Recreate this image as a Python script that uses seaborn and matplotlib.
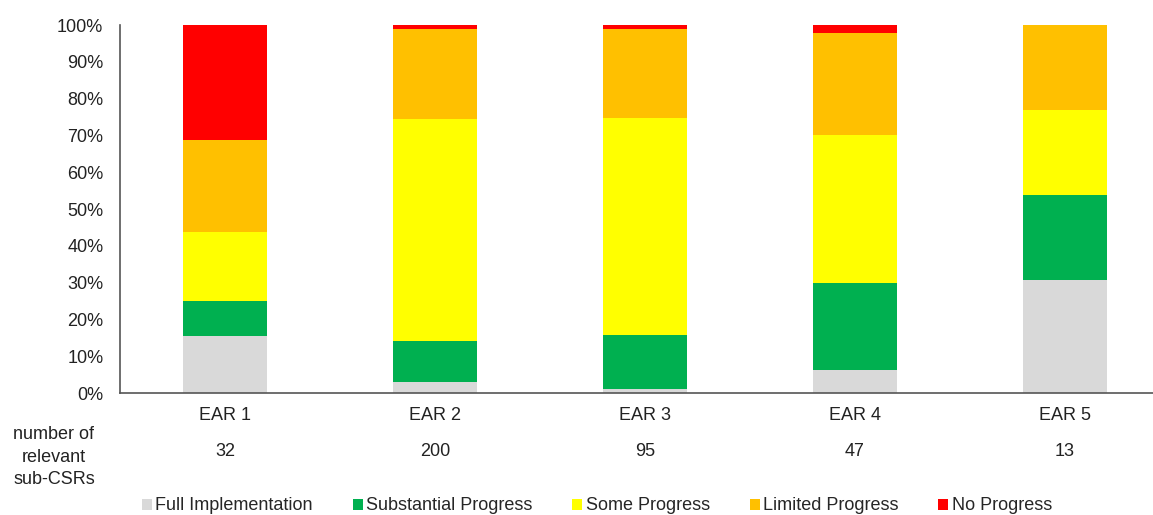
import matplotlib
matplotlib.use("Agg")
import matplotlib.pyplot as plt
from matplotlib.patches import Patch
import seaborn as sns
import pandas as pd
import numpy as np

categories = ["EAR 1", "EAR 2", "EAR 3", "EAR 4", "EAR 5"]
n_subcsrs = [32, 200, 95, 47, 13]
series_names = ["Full Implementation", "Substantial Progress", "Some Progress",
                "Limited Progress", "No Progress"]
full_impl = [5, 6, 1, 3, 4]
substantial = [3, 22, 14, 11, 3]
some = [6, 121, 56, 19, 3]
limited = [8, 49, 23, 13, 3]
no_progress = [10, 2, 1, 1, 0]
colors = ["#D9D9D9", "#00B050", "#FFFF00", "#FFC000", "#FF0000"]

sns.set_theme(style="white")
plt.rcParams["font.family"] = ["Liberation Sans", "DejaVu Sans"]

counts = np.array([full_impl, substantial, some, limited, no_progress], dtype=float)
totals = np.array(n_subcsrs, dtype=float)
pct = counts / totals * 100
cum = np.cumsum(pct, axis=0)

FS = 13
TXT = "#222222"

fig = plt.figure(figsize=(11.53, 5.15), dpi=100)
ax = fig.add_axes([120/1153, 122/515, 1 - 120/1153, 368/515])

for i in range(len(series_names) - 1, -1, -1):
    df = pd.DataFrame({"cat": categories, "val": cum[i]})
    sns.barplot(data=df, x="cat", y="val", color=colors[i], width=0.4,
                saturation=1, ax=ax, edgecolor="none", linewidth=0)

ax.set_xlim(-0.5, 4.42)
ax.set_ylim(0, 100)
ax.set_yticks(np.arange(0, 101, 10))
ax.set_yticklabels([f"{v}%" for v in range(0, 101, 10)], fontsize=FS, color=TXT)
ax.set_xlabel("")
ax.set_ylabel("")
ax.tick_params(axis="x", labelsize=FS, length=0, pad=10, colors=TXT)
ax.tick_params(axis="y", length=0, pad=12)
for s in ["top", "right"]:
    ax.spines[s].set_visible(False)
for s in ["left", "bottom"]:
    ax.spines[s].set_color("#555555")
    ax.spines[s].set_linewidth(1.2)

trans = matplotlib.transforms.blended_transform_factory(ax.transData, fig.transFigure)
for i, n in enumerate(n_subcsrs):
    ax.text(i, 1 - 452/515, str(n), transform=trans, ha="center", va="center",
            fontsize=FS, color=TXT)
fig.text(54/1153, 1 - 457/515, "number of\nrelevant\nsub-CSRs", ha="center", va="center",
         fontsize=FS, color=TXT, linespacing=1.45)

handles = [Patch(facecolor=c, edgecolor="none", label=l) for c, l in zip(colors, series_names)]
fig.legend(handles=handles, loc="center", bbox_to_anchor=(597/1153, 1 - 506/515), ncol=5,
           frameon=False, fontsize=FS, handlelength=0.55, handleheight=0.55,
           handletextpad=0.2, columnspacing=2.2)

fig.savefig("out.png", dpi=100)
